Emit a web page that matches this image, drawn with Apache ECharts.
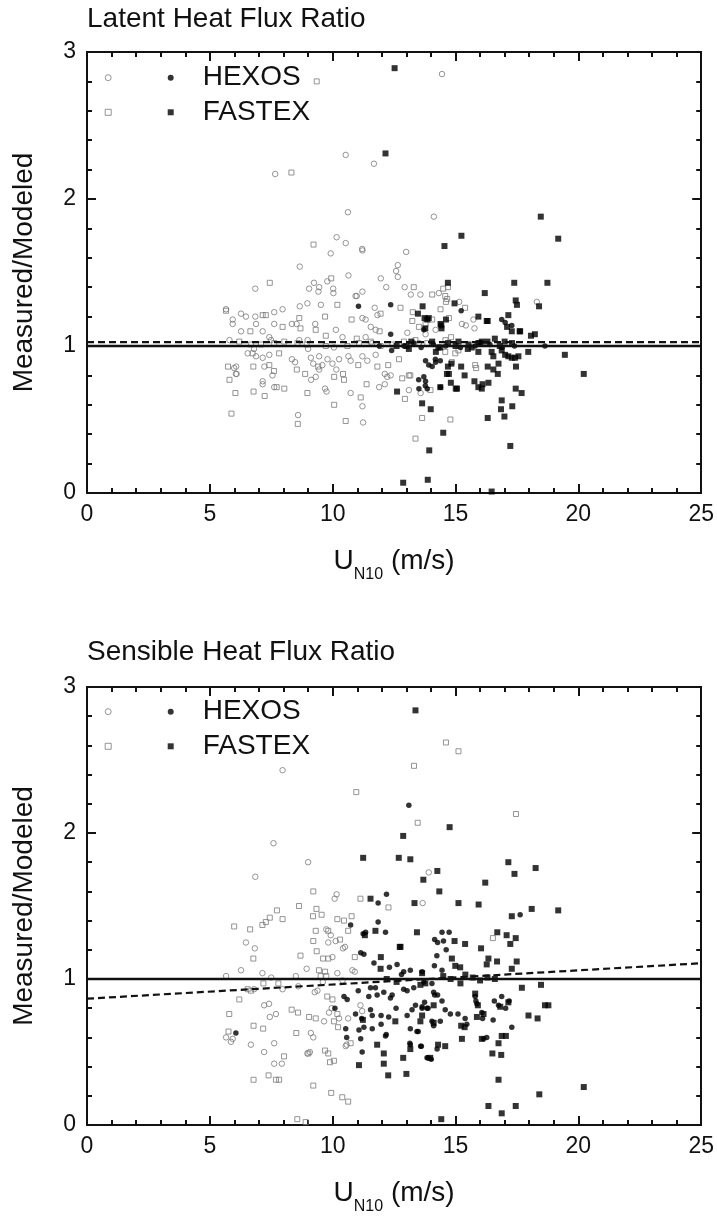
<!DOCTYPE html>
<html><head><meta charset="utf-8">
<script src="https://cdn.jsdelivr.net/npm/echarts@6/dist/echarts.min.js"></script>
<style>html,body{margin:0;padding:0;background:#fff}#c{width:717px;height:1216px}</style>
</head><body><div id="c"></div>
<script>
// ---------- data (x = U_N10 m/s, y = measured/modeled) ----------
const panelTitles = ['Latent Heat Flux Ratio', 'Sensible Heat Flux Ratio'];
const xTickStep = 5, xMax = 25, yTickStep = 1, yMax = 3;

const latHexosOpen = [[14.45,2.85],[10.53,2.30],[7.66,2.17],[11.68,2.24],[10.62,1.91],[14.12,1.88],[10.16,1.74],[10.53,1.70],[11.21,1.65],[9.92,1.63],[12.99,1.64],[11.20,1.66],[8.66,1.54],[6.85,1.39],[10.64,1.48],[12.65,1.55],[12.58,1.51],[12.65,1.47],[11.96,1.46],[12.18,1.40],[12.93,1.40],[9.04,1.39],[9.24,1.43],[9.45,1.40],[9.78,1.44],[10.02,1.39],[10.03,1.36],[9.42,1.37],[10.98,1.34],[11.21,1.37],[13.18,1.35],[13.57,1.35],[10.93,1.34],[5.66,1.25],[5.93,1.18],[5.93,1.15],[6.27,1.22],[6.47,1.20],[6.85,1.20],[6.88,1.15],[7.62,1.23],[7.96,1.25],[8.66,1.27],[8.97,1.29],[9.52,1.28],[6.27,1.10],[7.15,1.10],[7.42,1.06],[7.62,1.15],[8.34,1.15],[8.53,1.15],[9.29,1.15],[10.13,1.11],[11.71,1.26],[11.82,1.21],[11.21,1.19],[11.34,1.18],[11.55,1.13],[11.75,1.11],[15.26,1.15],[15.42,1.14],[15.77,1.12],[15.73,1.18],[15.15,1.30],[18.31,1.30],[6.54,0.95],[6.88,0.93],[7.15,0.92],[7.42,0.94],[7.22,0.86],[6.07,0.86],[6.09,0.81],[7.55,0.80],[7.15,0.76],[7.15,0.74],[7.62,0.72],[8.34,0.91],[8.47,0.89],[9.11,0.92],[9.21,0.88],[9.45,0.93],[9.58,0.87],[9.79,0.91],[9.99,0.88],[10.15,0.84],[10.26,0.91],[10.64,0.93],[10.73,0.90],[11.21,0.93],[11.41,0.90],[11.75,0.94],[9.45,0.84],[9.31,0.79],[9.12,0.77],[9.69,0.71],[9.75,0.69],[10.73,0.68],[11.21,0.59],[11.24,0.48],[8.59,0.53],[12.12,0.81],[12.22,0.79],[12.36,0.80],[11.89,0.72],[12.12,0.74],[13.10,0.70],[13.58,0.68],[8.64,1.04],[8.98,1.04],[7.49,1.04],[5.80,1.04],[10.40,1.06],[11.34,1.06],[11.61,1.02],[13.04,1.09],[13.51,1.02],[13.78,1.08],[14.19,1.11],[14.32,1.36],[5.99,0.85],[6.06,0.81],[10.05,0.99],[9.00,0.98],[6.80,0.98]];
const latFastexOpen = [[9.35,2.80],[8.32,2.18],[9.22,1.69],[7.44,1.43],[9.94,1.46],[7.15,1.21],[7.28,1.21],[8.64,1.19],[9.69,1.20],[10.19,1.28],[7.96,1.13],[8.69,1.12],[9.31,1.11],[6.65,1.10],[6.74,0.95],[5.74,0.86],[6.77,0.86],[5.80,0.77],[6.04,0.68],[6.78,0.69],[7.23,0.66],[5.88,0.54],[7.72,0.72],[8.03,0.71],[8.54,0.84],[8.97,0.68],[8.58,0.47],[10.06,0.60],[10.53,0.49],[10.42,0.81],[10.46,0.77],[10.06,0.79],[11.14,0.65],[11.38,0.74],[11.04,0.87],[11.82,0.86],[12.26,0.87],[12.70,0.91],[12.76,1.26],[13.30,1.40],[12.83,0.78],[13.10,0.80],[12.94,0.64],[13.64,0.51],[13.37,0.37],[14.79,0.50],[13.98,0.70],[11.91,1.10],[11.95,1.22],[10.77,1.18],[10.98,1.05],[9.72,1.07],[7.82,0.95],[7.42,0.87],[7.61,0.83],[9.41,0.86],[8.88,0.81],[13.26,1.23],[14.50,1.39],[14.69,1.40],[14.58,1.34],[14.61,1.30],[15.39,1.26],[14.82,1.06],[14.58,0.96],[14.99,0.95],[15.12,0.97],[14.85,0.89],[15.80,0.87],[15.84,0.85],[13.16,0.80],[6.20,1.03],[6.68,1.01],[7.08,1.01],[7.62,1.02],[8.03,1.03],[8.57,1.02],[8.94,1.01],[9.72,1.00],[10.60,1.00],[11.07,1.02],[11.55,1.03],[11.95,1.00],[12.43,1.01],[12.90,1.03],[13.37,1.04],[13.85,1.02],[14.59,1.04],[14.05,1.35],[14.66,1.32],[14.39,1.25],[14.73,1.19],[14.05,1.18],[13.78,1.15],[13.51,1.13],[13.24,1.17],[5.66,1.24]];
const latHexosFilled = [[11.05,1.27],[12.36,1.28],[12.36,1.08],[13.71,1.11],[13.78,0.90],[13.91,0.87],[14.05,0.86],[14.19,0.89],[14.39,0.72],[13.51,0.71],[13.85,0.71],[13.71,0.79],[13.78,0.76],[18.64,1.00],[14.18,0.91],[14.38,0.90],[13.50,0.77],[13.77,0.73],[15.23,1.24],[16.88,1.18],[17.02,1.16],[17.29,1.14],[12.90,1.00],[13.30,1.02],[13.60,0.99],[14.10,1.01],[14.60,1.00],[15.20,0.99],[15.80,1.00],[16.40,1.01],[16.90,0.99],[17.40,1.00],[11.90,1.00],[12.40,0.97]];
const latFastexFilled = [[12.52,2.89],[12.15,2.31],[18.47,1.88],[19.18,1.73],[15.24,1.75],[14.55,1.68],[14.69,1.43],[17.39,1.43],[18.74,1.43],[16.19,1.36],[17.45,1.31],[17.50,1.28],[18.40,1.27],[14.96,1.29],[15.93,1.20],[16.31,1.17],[17.15,1.21],[17.10,1.13],[17.29,1.10],[17.61,1.10],[18.07,1.07],[18.23,1.08],[15.12,1.03],[15.93,1.02],[16.07,1.03],[15.53,1.01],[15.66,0.99],[17.96,0.96],[19.45,0.94],[20.22,0.81],[16.47,0.96],[16.54,0.93],[16.88,0.97],[17.02,0.94],[17.15,0.93],[17.29,0.92],[17.42,0.92],[17.56,0.93],[15.93,0.96],[14.38,0.99],[14.69,0.86],[15.23,0.86],[16.31,0.86],[16.75,0.88],[16.54,0.84],[16.72,0.81],[17.46,0.86],[14.65,0.81],[15.37,0.80],[15.77,0.76],[16.34,0.75],[14.81,0.75],[15.01,0.71],[15.93,0.72],[16.07,0.71],[16.10,0.74],[17.45,0.71],[17.69,0.68],[14.38,0.72],[16.88,0.63],[17.31,0.59],[16.85,0.57],[16.99,0.52],[16.31,0.51],[14.50,0.41],[17.23,0.32],[16.47,0.01],[12.87,0.07],[13.87,0.09],[13.93,0.29],[13.64,0.61],[13.99,0.57],[12.62,0.69],[13.66,1.27],[13.47,1.22],[13.74,1.19],[13.91,1.19],[13.77,1.12],[14.42,1.14],[14.61,1.18],[16.27,1.17],[17.63,1.10],[13.85,1.18],[14.39,1.15],[14.43,1.12],[14.83,0.88],[14.73,0.81],[15.06,0.71],[13.00,1.00],[13.20,1.03],[14.05,1.03],[14.30,0.99],[14.70,1.02],[15.00,1.00],[15.50,0.98],[16.00,1.02],[16.30,1.03],[16.60,1.05],[16.80,1.00],[17.00,1.03],[17.30,1.02],[13.10,0.98],[12.60,1.00],[14.20,0.96]];

const senHexosOpen = [[7.96,2.43],[7.59,1.93],[9.00,1.80],[6.85,1.70],[10.16,1.58],[10.08,1.55],[13.91,1.73],[13.66,1.52],[6.47,1.25],[6.83,1.21],[9.74,1.34],[9.92,1.30],[9.82,1.25],[10.12,1.26],[10.42,1.21],[10.50,1.22],[9.99,1.15],[8.94,1.07],[10.19,1.04],[10.80,1.06],[10.90,1.05],[8.50,1.02],[7.96,0.93],[7.14,1.04],[6.27,1.06],[5.66,1.02],[5.66,0.60],[5.93,0.59],[5.86,0.57],[7.21,0.82],[7.41,0.83],[7.44,0.74],[7.69,0.76],[9.11,0.63],[9.21,0.60],[9.65,0.71],[9.85,0.77],[9.96,0.80],[10.26,0.73],[10.63,0.73],[9.38,0.92],[9.27,0.91],[6.67,0.55],[7.21,0.50],[7.62,0.56],[7.62,0.42],[7.93,0.42],[8.97,0.49],[9.07,0.50],[10.53,0.54],[10.57,0.55],[11.13,0.82],[11.20,0.78],[6.80,0.93],[8.60,0.95],[10.40,0.99],[9.60,0.98],[7.50,1.01]];
const senFastexOpen = [[10.96,2.28],[13.46,2.07],[14.61,2.62],[15.12,2.56],[13.31,2.46],[17.46,2.13],[9.21,1.60],[11.13,1.55],[12.27,1.49],[8.63,1.50],[7.73,1.47],[7.44,1.42],[7.28,1.39],[7.14,1.37],[7.96,1.41],[5.99,1.36],[6.64,1.34],[6.77,1.14],[9.20,1.43],[9.55,1.44],[9.34,1.48],[10.19,1.41],[10.46,1.40],[10.77,1.43],[10.63,1.33],[9.21,1.26],[9.35,1.19],[10.30,1.27],[8.69,1.16],[9.61,1.14],[9.82,1.14],[10.90,1.15],[9.44,1.06],[9.69,1.05],[9.51,1.02],[9.74,1.02],[7.79,0.97],[7.18,0.97],[6.54,0.93],[6.67,0.92],[5.76,0.64],[5.79,0.76],[6.20,0.86],[6.78,0.68],[7.17,0.66],[8.33,0.79],[8.59,0.77],[9.04,0.74],[9.31,0.73],[8.52,0.63],[9.78,0.88],[9.99,0.86],[10.19,0.76],[10.05,0.71],[10.22,0.67],[8.02,0.47],[9.01,0.49],[9.69,0.51],[9.82,0.49],[10.05,0.44],[9.89,0.43],[10.73,0.56],[6.78,0.31],[7.39,0.34],[7.69,0.31],[7.82,0.31],[9.21,0.27],[9.94,0.22],[10.39,0.19],[10.63,0.16],[8.56,0.04],[8.90,0.02],[16.52,1.28],[9.31,1.33],[9.82,1.33]];
const senHexosFilled = [[13.10,2.19],[11.85,1.52],[12.19,1.58],[17.63,1.44],[10.73,1.37],[11.24,1.31],[11.34,1.32],[11.14,1.18],[12.15,1.32],[11.85,1.39],[11.27,1.17],[14.15,1.27],[14.45,1.32],[14.74,1.32],[14.27,1.25],[14.51,1.26],[14.24,1.16],[14.14,1.09],[14.45,1.06],[14.62,1.20],[6.06,0.63],[17.29,0.67],[16.53,0.72],[16.58,0.85],[16.75,0.82],[16.88,0.88],[17.04,0.80],[17.18,0.85],[16.10,0.73],[16.07,0.77],[15.80,0.88],[15.83,0.85],[15.87,0.83],[15.39,0.73],[15.46,0.69],[15.10,0.76],[14.79,0.76],[14.58,0.79],[14.15,0.89],[14.45,0.85],[14.04,0.71],[14.11,0.68],[14.38,0.71],[13.74,0.84],[13.88,0.80],[13.64,0.81],[13.88,0.46],[14.01,0.45],[13.43,0.64],[13.16,0.66],[12.18,0.62],[11.97,0.69],[12.28,0.74],[13.61,0.54],[13.14,0.56],[16.27,0.60],[16.14,0.59],[11.74,0.94],[11.54,0.94],[11.04,0.92],[11.47,0.88],[11.81,0.89],[12.08,0.91],[12.42,0.89],[12.35,0.87],[12.89,0.93],[13.03,0.92],[13.30,0.94],[13.71,0.98],[14.04,0.97],[14.11,0.91],[14.27,0.89],[10.46,0.88],[10.59,0.86],[10.09,0.80],[10.93,0.76],[11.18,0.73],[11.54,0.79],[11.61,0.75],[11.97,0.75],[11.27,0.67],[11.61,0.66],[10.53,0.66],[10.57,0.60],[11.07,0.65],[11.14,0.59],[11.20,0.50],[12.15,0.61],[12.58,0.80],[13.03,0.75],[13.23,0.79],[13.37,0.82],[13.64,0.80],[13.84,0.80],[13.48,0.64],[13.16,0.55],[13.58,0.54],[13.84,0.46],[14.25,0.52],[11.68,1.11],[12.31,1.08],[12.62,1.10],[12.89,1.05],[13.16,1.06],[12.80,1.03],[13.64,1.05]];
const senFastexFilled = [[13.37,2.84],[14.76,2.04],[12.87,1.98],[11.24,1.83],[12.69,1.83],[13.16,1.82],[17.15,1.80],[17.40,1.72],[18.26,1.76],[14.26,1.74],[13.69,1.68],[14.34,1.60],[16.21,1.66],[11.54,1.55],[13.33,1.52],[15.12,1.52],[15.94,1.51],[18.10,1.48],[19.18,1.47],[17.29,1.43],[18.48,0.96],[17.70,0.94],[18.64,0.82],[18.78,0.82],[17.97,0.75],[18.34,0.73],[20.22,0.26],[18.41,0.21],[16.34,0.13],[16.88,0.08],[17.45,0.13],[16.75,0.31],[14.42,0.04],[16.50,0.49],[16.86,0.48],[16.75,0.56],[16.88,0.61],[17.05,0.61],[16.82,0.81],[17.15,0.84],[16.14,0.76],[15.87,0.74],[16.07,0.59],[15.91,0.82],[15.80,0.90],[15.23,0.68],[15.37,0.67],[15.26,0.59],[14.29,0.55],[14.58,0.54],[13.97,0.46],[14.11,0.70],[14.11,0.82],[13.57,0.71],[13.64,0.75],[13.16,0.52],[12.87,0.46],[13.00,0.35],[12.26,0.34],[12.08,0.42],[11.81,0.55],[12.08,0.49],[12.55,0.71],[11.07,0.41],[11.23,0.72],[13.43,1.32],[12.73,1.22],[15.39,1.24],[14.96,1.26],[16.04,1.21],[16.70,1.32],[17.08,1.30],[17.23,1.24],[17.45,1.28],[17.49,1.12],[17.29,1.07],[16.34,1.14],[16.27,1.10],[16.69,1.12],[11.74,1.33],[11.31,1.30],[11.96,1.15],[11.95,1.07],[12.76,1.22],[14.85,1.14],[14.99,1.09],[15.19,1.08],[13.64,1.04],[13.77,0.97],[13.57,0.96],[14.80,1.00],[15.20,0.97],[15.70,1.01],[16.00,0.99],[16.30,1.01],[16.60,1.00],[15.40,1.03],[14.50,1.02],[12.60,0.98],[12.20,1.00]];

// reference (1:1) line and fitted (dashed) lines, endpoints
const refX = [0, 25], refY = [1, 1];
const latFitX = [0, 25], latFitY = [1.027, 1.027];
const senFitX = [0, 25], senFitY = [0.865, 1.108];

// ---------- chart ----------
const FONT = '"Liberation Sans", Arial, Helvetica, sans-serif';
const INK = '#111';
const GRAY = '#7a7a7a';
const openStyle = {color: 'rgba(0,0,0,0)', borderColor: GRAY, borderWidth: 1};
const zip = (xs, ys) => xs.map((x, i) => [x, ys[i]]);

const grids = [
  {left: 87, right: 14, top: 52, height: 441},
  {left: 87, right: 14, top: 687, height: 440}
];

function xAxis(g, pos, main) {
  return {
    type: 'value', gridIndex: g, position: pos, min: 0, max: xMax, interval: xTickStep,
    axisLine: {show: true, onZero: false, lineStyle: {color: INK, width: 2}},
    axisTick: {show: true, inside: true, length: 9, lineStyle: {color: INK, width: 2}},
    minorTick: {show: true, splitNumber: 5, length: 5, lineStyle: {color: INK, width: 2}},
    splitLine: {show: false}, minorSplitLine: {show: false},
    axisLabel: {show: main, fontSize: 23, color: INK, fontFamily: FONT, margin: 10},
    name: main ? '{a|U}{b|N10}{a| (m/s)}' : '', nameLocation: 'middle', nameGap: 54,
    nameTextStyle: {fontFamily: FONT, color: INK, rich: {
      a: {fontSize: 28, lineHeight: 28, verticalAlign: 'top', fontFamily: FONT, color: INK},
      b: {fontSize: 16, lineHeight: 16, verticalAlign: 'top', padding: [20, 0, 0, 0], fontFamily: FONT, color: INK}
    }}
  };
}
function yAxis(g, pos, main) {
  return {
    type: 'value', gridIndex: g, position: pos, min: 0, max: yMax, interval: yTickStep,
    axisLine: {show: true, onZero: false, lineStyle: {color: INK, width: 2}},
    axisTick: {show: true, inside: true, length: 9, lineStyle: {color: INK, width: 2}},
    minorTick: {show: true, splitNumber: 5, length: 5, lineStyle: {color: INK, width: 2}},
    splitLine: {show: false}, minorSplitLine: {show: false},
    axisLabel: {show: main, fontSize: 23, color: INK, fontFamily: FONT, margin: 11},
    name: main ? 'Measured/Modeled' : '', nameLocation: 'middle', nameGap: 49,
    nameTextStyle: {fontSize: 28, color: INK, fontFamily: FONT}
  };
}

const xAxes = [xAxis(0, 'bottom', true), xAxis(0, 'top', false), xAxis(1, 'bottom', true), xAxis(1, 'top', false)];
const yAxes = [yAxis(0, 'left', true), yAxis(0, 'right', false), yAxis(1, 'left', true), yAxis(1, 'right', false)];

function panelSeries(ax, hOpen, fOpen, hFill, fFill, fitX, fitY) {
  return [
    {name: 'HEXOS-open', type: 'scatter', xAxisIndex: ax, yAxisIndex: ax, data: hOpen, symbol: 'circle', symbolSize: 5.5, itemStyle: openStyle, z: 2},
    {name: 'FASTEX-open', type: 'scatter', xAxisIndex: ax, yAxisIndex: ax, data: fOpen, symbol: 'rect', symbolSize: 5, itemStyle: openStyle, z: 2},
    {name: 'HEXOS', type: 'scatter', xAxisIndex: ax, yAxisIndex: ax, data: hFill, symbol: 'circle', symbolSize: 5.5, itemStyle: {color: '#000'}, z: 3},
    {name: 'FASTEX', type: 'scatter', xAxisIndex: ax, yAxisIndex: ax, data: fFill, symbol: 'rect', symbolSize: 6, itemStyle: {color: '#000'}, z: 3},
    {name: 'ref', type: 'line', xAxisIndex: ax, yAxisIndex: ax, data: zip(refX, refY), showSymbol: false, symbol: 'none', lineStyle: {color: INK, width: 2.6}, z: 4, silent: true},
    {name: 'fit', type: 'line', xAxisIndex: ax, yAxisIndex: ax, data: zip(fitX, fitY), showSymbol: false, symbol: 'none', lineStyle: {color: INK, width: 2.2, type: [7, 4]}, z: 4, silent: true}
  ];
}

const series = [
  ...panelSeries(0, latHexosOpen, latFastexOpen, latHexosFilled, latFastexFilled, latFitX, latFitY),
  ...panelSeries(2, senHexosOpen, senFastexOpen, senHexosFilled, senFastexFilled, senFitX, senFitY)
];

const legBase = {orient: 'vertical', padding: 0, itemWidth: 6, itemHeight: 6, itemGap: 4.6, selectedMode: false};
const openLeg = (top) => ({...legBase, left: 104.7, top: top, formatter: () => ' ',
  textStyle: {fontSize: 28, lineHeight: 30, fontFamily: FONT, color: INK},
  data: [{name: 'HEXOS-open', icon: 'circle', itemStyle: {color: '#fff', borderColor: GRAY, borderWidth: 1}},
         {name: 'FASTEX-open', icon: 'rect', itemStyle: {color: '#fff', borderColor: GRAY, borderWidth: 1}}]});
const fillLeg = (top) => ({...legBase, left: 167.7, top: top,
  textStyle: {fontSize: 28, lineHeight: 30, fontFamily: FONT, color: INK, padding: [0, 0, 0, 24]},
  data: [{name: 'HEXOS', icon: 'circle', itemStyle: {color: '#000'}},
         {name: 'FASTEX', icon: 'rect', itemStyle: {color: '#000'}}]});

const option = {
  backgroundColor: '#fff',
  animation: false,
  textStyle: {fontFamily: FONT},
  title: [
    {text: panelTitles[0], left: 87, top: 5, padding: 0, textStyle: {fontSize: 28, fontWeight: 'normal', color: INK, fontFamily: FONT}},
    {text: panelTitles[1], left: 87, top: 638, padding: 0, textStyle: {fontSize: 28, fontWeight: 'normal', color: INK, fontFamily: FONT}}
  ],
  legend: [openLeg(62.7), fillLeg(62.7), openLeg(696.7), fillLeg(696.7)],
  grid: grids,
  xAxis: xAxes,
  yAxis: yAxes,
  series: series
};

const chart = echarts.init(document.getElementById('c'), null, {renderer: 'canvas'});
chart.setOption(option);
</script>
</body></html>
